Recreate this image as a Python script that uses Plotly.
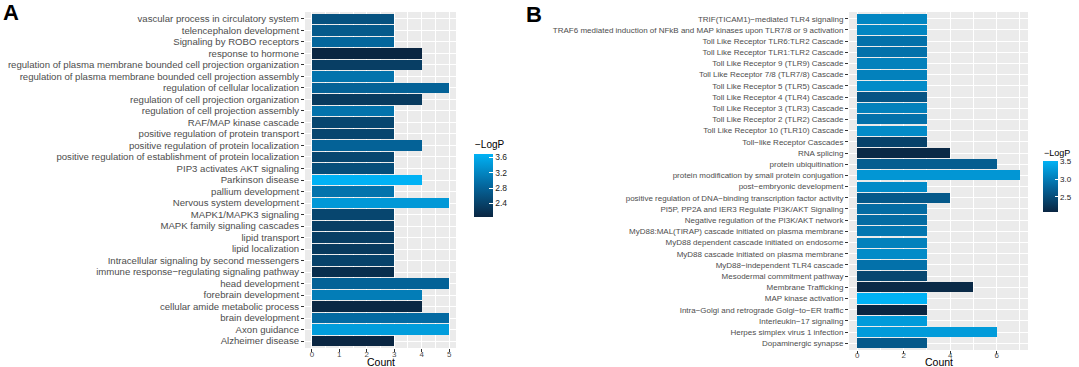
import plotly.graph_objects as go

# ---------------- Data ----------------
terms_a = [
    "vascular process in circulatory system",
    "telencephalon development",
    "Signaling by ROBO receptors",
    "response to hormone",
    "regulation of plasma membrane bounded cell projection organization",
    "regulation of plasma membrane bounded cell projection assembly",
    "regulation of cellular localization",
    "regulation of cell projection organization",
    "regulation of cell projection assembly",
    "RAF/MAP kinase cascade",
    "positive regulation of protein transport",
    "positive regulation of protein localization",
    "positive regulation of establishment of protein localization",
    "PIP3 activates AKT signaling",
    "Parkinson disease",
    "pallium development",
    "Nervous system development",
    "MAPK1/MAPK3 signaling",
    "MAPK family signaling cascades",
    "lipid transport",
    "lipid localization",
    "Intracellular signaling by second messengers",
    "immune response\u2212regulating signaling pathway",
    "head development",
    "forebrain development",
    "cellular amide metabolic process",
    "brain development",
    "Axon guidance",
    "Alzheimer disease",
]
count_a = [3, 3, 3, 4, 4, 3, 5, 4, 3, 3, 3, 4, 3, 3, 4, 3, 5, 3, 3, 3, 3, 3, 3, 5, 4, 4, 5, 5, 3]
logp_a = [2.6, 2.7, 2.85, 2.05, 2.35, 3.0, 2.8, 2.3, 3.0, 2.45, 2.45, 2.8, 2.45, 2.55, 3.68,
          3.0, 3.4, 2.45, 2.35, 2.35, 2.3, 2.4, 2.15, 2.8, 3.1, 2.07, 2.9, 3.45, 2.05]

terms_b = [
    "TRIF(TICAM1)\u2212mediated TLR4 signaling",
    "TRAF6 mediated induction of NFkB and MAP kinases upon TLR7/8 or 9 activation",
    "Toll Like Receptor TLR6:TLR2 Cascade",
    "Toll Like Receptor TLR1:TLR2 Cascade",
    "Toll Like Receptor 9 (TLR9) Cascade",
    "Toll Like Receptor 7/8 (TLR7/8) Cascade",
    "Toll Like Receptor 5 (TLR5) Cascade",
    "Toll Like Receptor 4 (TLR4) Cascade",
    "Toll Like Receptor 3 (TLR3) Cascade",
    "Toll Like Receptor 2 (TLR2) Cascade",
    "Toll Like Receptor 10 (TLR10) Cascade",
    "Toll\u2212like Receptor Cascades",
    "RNA splicing",
    "protein ubiquitination",
    "protein modification by small protein conjugation",
    "post\u2212embryonic development",
    "positive regulation of DNA\u2212binding transcription factor activity",
    "PI5P, PP2A and IER3 Regulate PI3K/AKT Signaling",
    "Negative regulation of the PI3K/AKT network",
    "MyD88:MAL(TIRAP) cascade initiated on plasma membrane",
    "MyD88 dependent cascade initiated on endosome",
    "MyD88 cascade initiated on plasma membrane",
    "MyD88\u2212independent TLR4 cascade",
    "Mesodermal commitment pathway",
    "Membrane Trafficking",
    "MAP kinase activation",
    "Intra\u2212Golgi and retrograde Golgi\u2212to\u2212ER traffic",
    "Interleukin\u221217 signaling",
    "Herpes simplex virus 1 infection",
    "Dopaminergic synapse",
]
count_b = [3, 3, 3, 3, 3, 3, 3, 3, 3, 3, 3, 3, 4, 6, 7, 3, 4, 3, 3, 3, 3, 3, 3, 3, 5, 3, 3, 3, 6, 3]
logp_b = [3.1, 3.1, 2.9, 2.9, 3.05, 3.05, 3.15, 2.6, 3.05, 2.9, 3.15, 2.4, 2.12, 2.7, 3.25,
          3.15, 2.65, 2.85, 2.85, 2.95, 3.05, 3.15, 2.9, 2.45, 2.13, 3.52, 2.09, 3.3, 3.3, 2.65]

ticks_a = [0, 1, 2, 3, 4, 5]
ticks_b = [0, 2, 4, 6]
cb_ticks_a = [2.4, 2.8, 3.2, 3.6]
cb_ticks_b = [2.5, 3.0, 3.5]

# ---------------- Style ----------------
W, H = 1079, 367
LOW, HIGH = "#0A2642", "#00B2F5"
scale = [[0, LOW], [0.5, "#04679E"], [1, HIGH]]
FONT = "Liberation Sans, Arial, Helvetica, sans-serif"
PANEL = "#EBEBEB"

fig = go.Figure()
fig.add_trace(go.Bar(x=count_a, y=terms_a, orientation="h", width=0.9,
                     marker=dict(color=logp_a, coloraxis="coloraxis", line_width=0),
                     xaxis="x", yaxis="y", showlegend=False))
fig.add_trace(go.Bar(x=count_b, y=terms_b, orientation="h", width=0.9,
                     marker=dict(color=logp_b, coloraxis="coloraxis2", line_width=0),
                     xaxis="x2", yaxis="y2", showlegend=False))

def px_x(v):
    return v / W

def px_y(v):
    return 1 - v / H

def xax(domain, rng, ticks, minor_dtick, minor_start, standoff):
    return dict(domain=domain, range=rng, tickmode="array", tickvals=ticks,
                showline=False, zeroline=False,
                showgrid=True, gridcolor="white", gridwidth=1.1,
                minor=dict(showgrid=True, gridcolor="white", gridwidth=0.5,
                           tick0=minor_start, dtick=minor_dtick, ticks=""),
                ticks="outside", ticklen=3, tickcolor="#333333", tickwidth=0.8,
                ticklabelstandoff=standoff,
                tickfont=dict(size=8, color="#4D4D4D", family=FONT),
                automargin=False, fixedrange=True)

def yax(domain, terms, size, anchor):
    n = len(terms)
    return dict(domain=domain, range=[n - 0.4, -0.6], type="category", anchor=anchor,
                tickmode="array", tickvals=terms, ticktext=terms,
                showgrid=True, gridcolor="white", gridwidth=1.1, showline=False, zeroline=False,
                ticks="outside", ticklen=3, tickcolor="#333333", tickwidth=0.8,
                tickfont=dict(size=size, color="#4D4D4D", family=FONT),
                automargin=False, fixedrange=True)

ax_dom = [px_x(305), px_x(456)]
bx_dom = [px_x(849), px_x(1028)]
ay_dom = [px_y(348), px_y(12)]
by_dom = [px_y(350), px_y(12)]

fig.update_layout(
    width=W, height=H, margin=dict(l=0, r=0, t=0, b=0),
    paper_bgcolor="white", plot_bgcolor=PANEL, bargap=0,
    font=dict(family=FONT),
    xaxis=xax(ax_dom, [-0.25, 5.25], ticks_a, 1, 0.5, -5) | dict(anchor="y"),
    yaxis=yax(ay_dom, terms_a, 9.6, "x"),
    xaxis2=xax(bx_dom, [-0.35, 7.35], ticks_b, 2, 1, -6) | dict(anchor="y2"),
    yaxis2=yax(by_dom, terms_b, 8.0, "x2"),
    coloraxis=dict(colorscale=scale, cmin=min(logp_a), cmax=max(logp_a),
                   colorbar=dict(x=px_x(474), xanchor="left", y=px_y(185.5), yanchor="middle",
                                 thickness=19, len=63, lenmode="pixels", xpad=0, ypad=0,
                                 outlinewidth=0, tickvals=cb_ticks_a,
                                 ticks="inside", ticklen=4, tickcolor="white",
                                 tickfont=dict(size=8.5, color="#1A1A1A", family=FONT))),
    coloraxis2=dict(colorscale=scale, cmin=min(logp_b), cmax=max(logp_b),
                    colorbar=dict(x=px_x(1043), xanchor="left", y=px_y(186), yanchor="middle",
                                  thickness=15, len=51, lenmode="pixels", xpad=0, ypad=0,
                                  outlinewidth=0, tickvals=cb_ticks_b,
                                  tickformat=".1f",
                                  ticks="inside", ticklen=3, tickcolor="white",
                                  tickfont=dict(size=8, color="#1A1A1A", family=FONT))),
    annotations=[
        dict(text="<b>A</b>", x=0.0, y=1.0, xref="paper", yref="paper", xanchor="left",
             yanchor="top", showarrow=False, font=dict(size=22, color="black", family=FONT),
             xshift=1, yshift=2),
        dict(text="<b>B</b>", x=px_x(524), y=1.0, xref="paper", yref="paper", xanchor="left",
             yanchor="top", showarrow=False, font=dict(size=22, color="black", family=FONT),
             yshift=0),
        dict(text="\u2212LogP", x=px_x(473), y=px_y(152), xref="paper", yref="paper",
             xanchor="left", yanchor="bottom", showarrow=False,
             font=dict(size=10, color="black", family=FONT)),
        dict(text="\u2212LogP", x=px_x(1042), y=px_y(160), xref="paper", yref="paper",
             xanchor="left", yanchor="bottom", showarrow=False,
             font=dict(size=9, color="black", family=FONT)),
        dict(text="Count", x=(ax_dom[0] + ax_dom[1]) / 2, y=px_y(362), xref="paper",
             yref="paper", xanchor="center", yanchor="middle", showarrow=False, borderpad=0,
             font=dict(size=10.5, color="black", family=FONT)),
        dict(text="Count", x=(bx_dom[0] + bx_dom[1]) / 2, y=px_y(362), xref="paper",
             yref="paper", xanchor="center", yanchor="middle", showarrow=False, borderpad=0,
             font=dict(size=10.5, color="black", family=FONT)),
    ],
)

fig.write_html("out.html", config={"displayModeBar": False},
               post_script="document.body.style.margin='0';document.body.style.overflow='hidden';")
